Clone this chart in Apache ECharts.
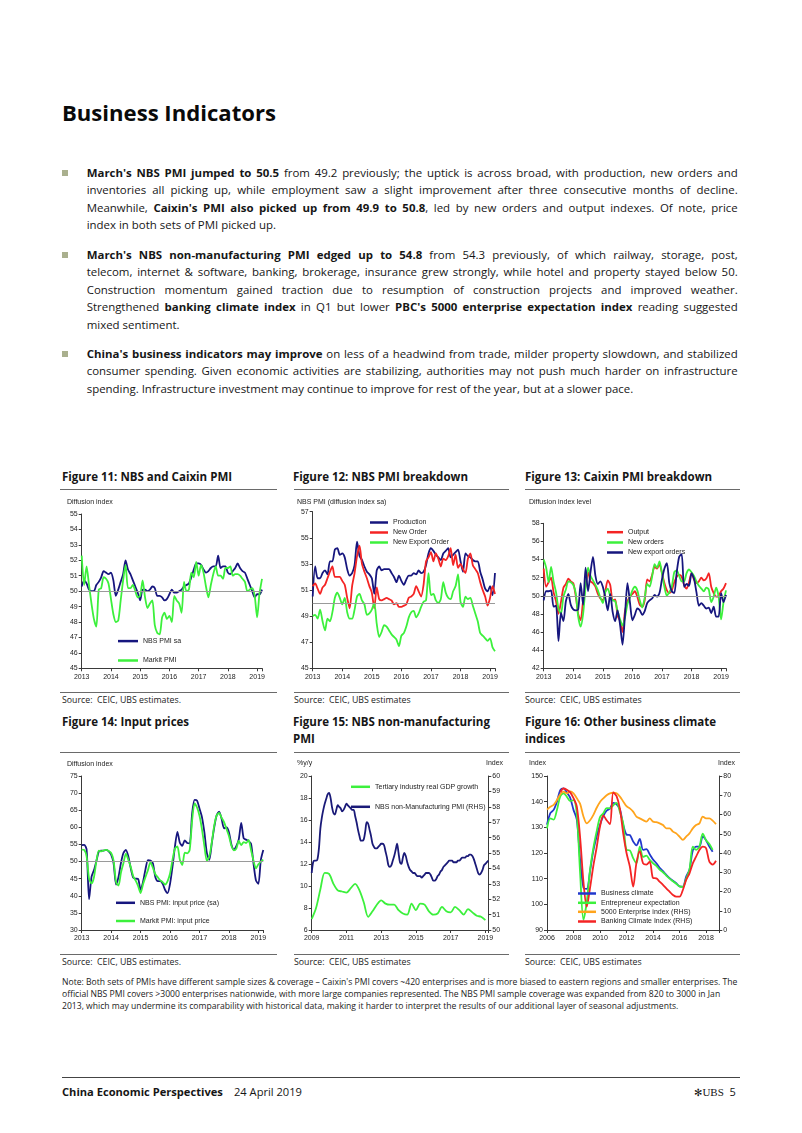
<!DOCTYPE html>
<html>
<head>
<meta charset="utf-8">
<title>Business Indicators</title>
<script src="https://cdn.jsdelivr.net/npm/echarts@6.0.0/dist/echarts.min.js"></script>
<style>
html,body{margin:0;padding:0;background:#fff;}
#page{position:relative;width:802px;height:1133px;overflow:hidden;font-family:'Open Sans','Noto Sans',sans-serif;color:#161616;}
.abs{position:absolute;white-space:nowrap;}
.jl{position:absolute;left:86.7px;width:651px;height:18px;line-height:18px;text-align:justify;text-align-last:justify;font-size:11.5px;white-space:normal;overflow:visible;}
.jl.last{text-align-last:left;}
.bul{position:absolute;left:62px;width:6px;height:6px;background:#aab08e;}
.rule{position:absolute;height:1px;background:#6a6a6a;}
.ft{font-weight:700;font-size:12px;line-height:16px;}
.src{font-size:8.5px;line-height:12px;color:#222;}
.note{font-size:8px;line-height:12px;color:#222;}
.foot{font-size:11.5px;line-height:16px;}
.chart{position:absolute;}
</style>
</head>
<body>
<div id="page">
  <div class="abs" id="title" style="left:62px;top:97px;line-height:30px;font-size:23px;font-weight:700;color:#0a0a0a;">Business Indicators</div>

  <div class="bul" style="top:169.7px"></div>
  <div class="jl" style="top:163.7px"><span><b>March's NBS PMI jumped to 50.5</b> from 49.2 previously; the uptick is across broad, with production, new orders and</span></div>
  <div class="jl" style="top:181.1px"><span>inventories all picking up, while employment saw a slight improvement after three consecutive months of decline.</span></div>
  <div class="jl" style="top:198.5px"><span>Meanwhile, <b>Caixin's PMI also picked up from 49.9 to 50.8</b>, led by new orders and output indexes. Of note, price</span></div>
  <div class="jl last" id="refline" style="top:215.9px"><span>index in both sets of PMI picked up.</span></div>

  <div class="bul" style="top:251.5px"></div>
  <div class="jl" style="top:245.5px"><span><b>March's NBS non-manufacturing PMI edged up to 54.8</b> from 54.3 previously, of which railway, storage, post,</span></div>
  <div class="jl" style="top:263px"><span>telecom, internet &amp; software, banking, brokerage, insurance grew strongly, while hotel and property stayed below 50.</span></div>
  <div class="jl" style="top:280.5px"><span>Construction momentum gained traction due to resumption of construction projects and improved weather.</span></div>
  <div class="jl" style="top:298px"><span>Strengthened <b>banking climate index</b> in Q1 but lower <b>PBC's 5000 enterprise expectation index</b> reading suggested</span></div>
  <div class="jl last" style="top:315.5px"><span>mixed sentiment.</span></div>

  <div class="bul" style="top:350.5px"></div>
  <div class="jl" style="top:344.5px"><span><b>China's business indicators may improve</b> on less of a headwind from trade, milder property slowdown, and stabilized</span></div>
  <div class="jl" style="top:362px"><span>consumer spending. Given economic activities are stabilizing, authorities may not push much harder on infrastructure</span></div>
  <div class="jl last" style="top:379.5px"><span>spending. Infrastructure investment may continue to improve for rest of the year, but at a slower pace.</span></div>

  <!-- Row 1 titles -->
  <div class="abs ft" id="ft11" style="left:62px;top:469px">Figure 11: NBS and Caixin PMI</div>
  <div class="abs ft" style="left:293px;top:469px">Figure 12: NBS PMI breakdown</div>
  <div class="abs ft" style="left:525px;top:469px">Figure 13: Caixin PMI breakdown</div>
  <div class="rule" style="left:60px;top:488.5px;width:217px"></div>
  <div class="rule" style="left:294px;top:488.5px;width:215px"></div>
  <div class="rule" style="left:525px;top:488.5px;width:215px"></div>

  <div class="chart" id="c11" style="left:60px;top:495px;width:217px;height:195px"></div>
  <div class="chart" id="c12" style="left:294px;top:495px;width:215px;height:195px"></div>
  <div class="chart" id="c13" style="left:525px;top:495px;width:215px;height:195px"></div>

  <div class="rule" style="left:60px;top:691.5px;width:217px"></div>
  <div class="rule" style="left:294px;top:691.5px;width:215px"></div>
  <div class="rule" style="left:525px;top:691.5px;width:215px"></div>
  <div class="abs src" id="src1" style="left:62px;top:694px">Source:&nbsp; CEIC, UBS estimates.</div>
  <div class="abs src" style="left:294px;top:694px">Source:&nbsp; CEIC, UBS estimates</div>
  <div class="abs src" style="left:525px;top:694px">Source:&nbsp; CEIC, UBS estimates</div>

  <!-- Row 2 titles -->
  <div class="abs ft" style="left:62px;top:714px">Figure 14: Input prices</div>
  <div class="abs ft" style="left:293px;top:714px">Figure 15: NBS non-manufacturing</div>
  <div class="abs ft" style="left:293px;top:731px">PMI</div>
  <div class="abs ft" style="left:525px;top:714px">Figure 16: Other business climate</div>
  <div class="abs ft" style="left:525px;top:731px">indices</div>
  <div class="rule" style="left:60px;top:751.5px;width:217px"></div>
  <div class="rule" style="left:294px;top:751.5px;width:215px"></div>
  <div class="rule" style="left:525px;top:751.5px;width:215px"></div>

  <div class="chart" id="c14" style="left:60px;top:757px;width:217px;height:193px"></div>
  <div class="chart" id="c15" style="left:294px;top:757px;width:215px;height:193px"></div>
  <div class="chart" id="c16" style="left:525px;top:757px;width:215px;height:193px"></div>

  <div class="rule" style="left:60px;top:953.5px;width:217px"></div>
  <div class="rule" style="left:294px;top:953.5px;width:215px"></div>
  <div class="rule" style="left:525px;top:953.5px;width:215px"></div>
  <div class="abs src" style="left:62px;top:956px">Source:&nbsp; CEIC, UBS estimates.</div>
  <div class="abs src" style="left:294px;top:956px">Source:&nbsp; CEIC, UBS estimates</div>
  <div class="abs src" style="left:525px;top:956px">Source:&nbsp; CEIC, UBS estimates</div>

  <div class="abs note" id="note1" style="left:62px;top:976px">Note: Both sets of PMIs have different sample sizes &amp; coverage – Caixin's PMI covers ~420 enterprises and is more biased to eastern regions and smaller enterprises. The</div>
  <div class="abs note" style="left:62px;top:988px">official NBS PMI covers &gt;3000 enterprises nationwide, with more large companies represented. The NBS PMI sample coverage was expanded from 820 to 3000 in Jan</div>
  <div class="abs note" style="left:62px;top:1000px">2013, which may undermine its comparability with historical data, making it harder to interpret the results of our additional layer of seasonal adjustments.</div>

  <div class="rule" style="left:62px;top:1076.5px;width:678px;background:#444"></div>
  <div class="abs foot" id="foot1" style="left:62px;top:1084px;font-weight:700">China Economic Perspectives</div>
  <div class="abs foot" id="foot2" style="left:234px;top:1084px">24 April 2019</div>
  <div class="abs" style="left:694px;top:1084px;line-height:16px;font-size:11px;"><span style="font-family:'DejaVu Sans';font-size:10px">✻</span><span style="font-family:'Liberation Serif',serif;font-size:11px">UBS</span><span style="font-size:11px">&nbsp; 5</span></div>
</div>

<script>
// ---------------- DATA ----------------
// Figure 11 (monthly, Jan 2013 - Mar 2019)
const fig11Years = [2013, 2014, 2015, 2016, 2017, 2018, 2019];
const fig11YTicks = [45, 46, 47, 48, 49, 50, 51, 52, 53, 54, 55];
const nbsPmiSa = [
50.3,50.7,50.5,50.1,50.0,50.0,50.4,50.6,50.9,51.3,51.2,51.1,
51.2,50.7,49.7,50.1,50.6,51.1,52.0,51.4,51.1,50.7,50.3,49.9,
49.4,50.1,50.1,50.0,50.1,50.3,50.2,49.7,49.7,49.6,49.4,49.5,
49.8,50.1,49.9,49.9,50.0,50.1,50.3,50.4,50.5,50.9,51.4,51.8,
51.8,51.7,51.4,51.2,51.3,51.5,51.6,51.6,52.3,51.5,51.6,51.6,
51.2,51.1,51.3,51.5,51.8,51.5,51.3,51.2,50.8,50.4,50.0,49.6,
49.8,49.8,50.1];
const markitPmi = [
52.3,50.4,51.6,50.4,49.2,48.2,47.7,50.1,50.2,50.9,50.8,50.5,
49.5,48.5,48.0,48.1,49.4,50.7,51.7,50.2,50.2,50.4,50.0,49.6,
49.7,50.7,49.6,48.9,49.2,49.4,47.8,47.3,47.2,48.3,48.6,48.2,
48.4,48.0,49.7,49.4,49.2,48.6,50.6,50.0,50.1,51.2,50.9,51.9,
51.0,51.7,51.2,50.3,49.6,50.4,51.1,51.6,51.0,51.0,50.8,51.5,
51.5,51.6,51.0,51.1,51.1,51.0,50.8,50.6,50.0,50.1,50.2,49.7,
48.3,49.9,50.8];

// Figure 12 (monthly, Jan 2013 - Mar 2019)
const fig12YTicks = [45, 47, 49, 51, 53, 55, 57];
const nbsProduction = [
50.5,52.8,51.9,51.9,52.3,52.5,52.2,53.2,53.2,54.1,54.2,53.7,
53.8,53.5,52.6,52.1,52.3,52.9,54.7,53.6,53.3,52.8,52.4,52.2,
51.9,50.7,52.5,52.8,52.5,52.6,52.6,52.6,52.3,52.0,51.6,52.1,
51.7,51.4,51.8,52.1,52.1,52.3,52.2,52.5,52.3,52.4,52.9,53.8,
54.2,54.0,53.7,53.5,53.3,53.8,54.0,54.2,53.5,53.7,53.9,54.1,
53.2,52.4,53.8,53.6,53.5,53.3,53.2,53.2,52.4,51.8,51.1,50.9,
51.3,50.6,52.3];
const nbsNewOrder = [
51.3,51.5,51.1,50.7,51.2,51.4,51.9,52.4,52.8,52.0,52.0,52.0,
51.7,51.4,50.4,49.6,51.3,52.3,53.6,54.4,53.0,52.4,51.9,51.3,
50.8,49.6,51.2,50.3,50.2,50.3,50.4,50.3,50.2,49.9,50.0,49.7,
49.7,49.8,49.9,50.4,50.5,50.7,51.3,50.9,50.5,51.4,53.2,53.5,
53.9,53.2,53.8,53.4,52.8,53.4,53.3,53.6,54.2,52.9,53.7,52.7,
53.0,52.6,52.3,53.4,53.8,52.9,52.6,52.3,51.6,51.0,50.5,49.8,
50.4,51.3,50.7];
const nbsNewExportOrder = [
49.0,49.1,48.8,49.5,48.6,47.9,48.8,48.6,49.3,50.4,50.8,50.4,
49.9,50.4,49.3,48.8,48.8,49.5,50.5,50.7,50.2,49.9,49.1,49.2,
49.5,50.0,48.4,47.4,47.8,48.3,48.2,47.9,47.6,47.4,47.2,46.7,
47.5,47.7,48.2,48.9,49.3,49.4,48.9,49.2,49.7,50.1,50.2,52.3,
50.6,50.7,50.2,50.0,50.3,51.6,50.8,50.4,50.3,50.9,51.3,52.2,
50.1,49.7,50.5,50.3,50.4,49.8,49.2,48.6,47.7,47.5,47.3,47.1,
47.3,46.6,46.3];

// Figure 13 (monthly, Jan 2013 - Mar 2019)
const fig13YTicks = [42, 44, 46, 48, 50, 52, 54, 56, 58];
const caixinOutput = [
53.0,51.0,51.5,52.0,50.4,49.4,48.0,49.3,50.9,51.3,51.9,51.6,
51.4,50.0,48.0,47.3,49.5,51.1,52.6,51.6,51.4,51.0,50.2,49.7,
49.5,50.5,51.7,51.2,49.5,49.6,47.8,47.2,46.0,48.3,49.4,49.9,
50.2,50.5,49.9,49.0,48.8,49.5,51.8,51.6,52.3,53.2,53.0,53.5,
52.5,51.4,50.6,50.3,50.6,51.5,52.1,52.3,52.1,51.2,50.8,51.5,
52.5,51.8,51.4,51.6,52.0,51.7,51.9,52.5,51.0,50.3,49.9,50.0,
50.5,50.8,51.4];
const caixinNewOrders = [
54.0,53.1,51.5,53.2,51.6,50.4,48.6,48.0,49.9,50.7,51.6,51.5,
51.2,50.3,47.7,46.6,48.0,51.0,53.1,52.2,51.7,51.2,50.6,49.8,
49.2,50.4,50.8,50.0,49.5,49.4,48.3,47.4,46.7,47.6,49.1,49.8,
50.6,51.0,50.6,49.5,48.7,49.8,51.3,51.0,52.1,53.5,53.1,53.8,
52.5,51.0,50.0,50.4,51.0,52.6,52.8,52.2,51.6,51.6,52.5,52.9,
52.6,52.2,51.6,51.1,50.8,50.5,50.9,50.7,49.3,49.9,50.9,49.9,
47.4,49.3,50.6];
const caixinNewExportOrders = [
49.5,50.5,50.5,50.6,48.8,48.9,45.0,48.1,47.2,49.4,50.2,49.0,
48.5,48.4,48.5,51.4,49.0,53.1,50.5,52.6,54.3,52.2,51.3,51.6,
51.0,49.8,48.4,50.2,48.2,47.2,48.4,46.8,44.6,47.9,51.4,49.3,
47.3,47.9,48.6,48.4,47.9,48.3,49.2,49.5,49.7,50.1,49.9,50.3,
51.8,53.0,53.6,51.4,50.5,50.3,52.6,54.3,54.6,51.0,51.3,51.1,
52.5,51.9,50.4,48.9,49.2,48.9,48.6,48.7,48.1,48.8,47.7,47.7,
50.3,49.3,50.1];

// Figure 14 (monthly, Jan 2013 - Mar 2019)
const fig14YTicks = [30, 35, 40, 45, 50, 55, 60, 65, 70, 75];
const nbsInputPrice = [
54.8,54.9,53.5,39.0,45.5,47.5,50.2,53.0,53.2,53.2,53.4,53.0,
52.0,49.5,43.3,45.5,49.6,52.5,53.4,51.5,48.0,45.3,45.0,44.9,
41.7,44.1,47.8,50.4,50.3,49.5,45.5,44.3,44.3,43.5,41.7,40.8,
43.5,48.5,54.4,58.7,55.5,54.6,56.2,55.4,55.3,64.0,68.0,67.8,
65.5,63.0,58.5,52.5,50.5,55.3,60.0,63.5,64.6,62.5,59.7,60.0,
58.6,55.0,53.5,54.5,56.5,61.3,56.8,56.4,56.0,55.2,49.5,44.5,
43.5,50.5,53.4];
const markitInputPrice = [
53.5,53.4,51.5,45.0,43.6,45.4,50.2,53.2,53.0,53.3,53.4,53.1,
52.5,50.3,44.0,43.0,46.8,49.5,52.3,50.5,48.4,45.7,44.4,42.8,
40.8,43.4,45.5,47.5,49.8,48.2,46.3,45.4,44.5,44.0,43.3,44.3,
46.5,50.5,53.8,54.4,50.5,49.0,52.6,52.4,53.4,62.0,67.0,65.8,
63.4,59.5,54.5,50.2,51.5,55.5,60.5,63.5,64.2,62.8,61.5,59.5,
57.5,54.6,53.3,53.8,56.0,54.8,55.7,55.4,56.3,53.4,50.3,48.0,
49.2,50.0,50.5];

// Figure 15: tertiary GDP (quarterly, 2009Q1-2019Q1) and non-mfg PMI (monthly, Jan 2009 - Mar 2019)
const fig15Years = [2009, 2011, 2013, 2015, 2017, 2019];
const fig15LeftTicks = [6, 8, 10, 12, 14, 16, 18, 20];
const fig15RightTicks = [50, 51, 52, 53, 54, 55, 56, 57, 58, 59, 60];
const tertiaryGdp = [
7.0,8.0,9.7,11.2,11.1,10.2,9.6,9.5,9.4,9.8,10.2,9.6,8.5,7.2,7.7,8.3,8.7,8.4,8.3,8.3,
7.8,7.5,7.4,8.4,7.8,8.4,8.3,7.7,7.4,7.5,8.1,7.7,7.6,8.1,7.8,7.4,7.9,7.6,7.3,7.2,6.9];
const nonMfgPmi = [
53.7,54.4,54.5,54.5,54.6,55.3,56.6,57.3,57.8,58.2,58.5,58.8,
58.9,58.6,58.0,57.6,57.5,57.8,58.1,58.0,57.9,57.7,57.8,58.0,
58.2,58.1,58.0,57.9,57.8,57.8,57.4,57.0,56.5,56.1,55.8,55.8,
55.9,56.4,57.0,56.9,56.5,56.1,55.6,55.4,55.3,55.3,55.4,55.5,
55.6,55.6,55.5,55.1,54.7,54.2,54.1,54.2,54.5,54.8,55.2,55.6,
55.0,54.4,54.3,54.7,55.0,54.8,54.4,54.1,53.9,53.8,53.7,53.7,
53.6,53.5,53.5,53.5,53.4,53.5,53.6,53.7,53.7,53.7,53.6,53.4,
53.2,53.2,53.3,53.5,53.6,53.8,53.9,54.1,54.2,54.3,54.4,54.5,
54.5,54.5,54.4,54.4,54.4,54.5,54.5,54.6,54.7,54.7,54.7,54.8,
54.8,54.9,54.9,54.8,54.6,54.3,54.0,53.7,53.6,53.7,53.9,54.2,
54.3,54.4,54.5];

// Figure 16 (quarterly, 2006Q1 - 2018Q4)
const fig16Years = [2006, 2008, 2010, 2012, 2014, 2016, 2018];
const fig16LeftTicks = [90, 100, 110, 120, 130, 140, 150];
const fig16RightTicks = [0, 10, 20, 30, 40, 50, 60, 70, 80];
const businessClimate = [
131.0,135.5,136.8,140.0,144.5,145.2,143.5,141.5,136.8,133.0,
117.3,106.5,106.0,113.0,121.0,126.5,131.0,134.5,136.5,137.3,
139.5,139.0,137.0,131.0,127.2,127.0,124.5,123.0,125.5,121.2,
121.5,119.5,117.5,116.0,114.2,112.9,111.5,110.2,109.2,108.2,
107.0,106.9,110.8,113.5,121.0,122.5,122.5,126.4,125.0,122.5,
120.5];
const entrepreneurExpectation = [
129.6,133.5,133.0,136.8,142.0,143.2,141.9,140.2,140.6,135.0,
112.0,94.0,101.0,113.5,122.0,128.5,134.0,135.5,137.5,137.4,
138.6,139.5,136.0,131.5,121.2,121.0,118.0,116.0,122.5,118.5,
119.0,117.3,116.0,115.0,113.5,112.5,111.2,110.0,109.0,108.0,
107.0,106.8,110.0,113.5,122.5,121.2,122.5,127.5,125.0,123.5,
121.2];
const enterprise5000 = [
62.5,64.0,65.0,67.5,70.5,71.9,71.0,72.0,71.0,68.4,
65.5,59.0,55.4,57.0,59.8,63.5,66.5,68.4,70.0,71.0,
71.3,71.0,69.3,66.8,64.3,63.2,61.5,58.9,58.0,57.1,
56.3,58.0,56.3,56.0,55.4,54.5,52.8,52.8,51.1,50.2,
48.5,46.8,48.5,50.2,52.8,54.5,55.4,58.9,58.0,58.0,
56.8,55.0];
const bankingClimate = [
null,null,null,null,71.5,73.5,72.8,71.5,68.5,64.1,
48.0,25.0,12.1,22.0,33.5,43.0,53.7,59.5,57.0,55.0,
71.5,69.5,63.0,50.2,40.0,33.0,22.5,35.0,41.0,34.6,
34.0,35.5,27.0,26.8,25.1,23.4,21.6,19.9,18.2,17.3,
17.3,20.8,26.0,29.4,34.6,38.1,41.6,43.3,42.5,35.5,
34.0,36.0];

// ---------------- STYLE ----------------
const FONT = "'Liberation Sans', Arial, sans-serif";
const TXT = '#1c1c1c';
const AXC = '#3a3a3a';
const NAVY = '#16167e';
const GREEN = '#3cf03c';
const RED = '#f42424';
const ORANGE = '#ffa41c';
const BLUE = '#2138cc';

function monthly(startYear, vals) { return vals.map((v, i) => [startYear + i / 12, v]); }
function quarterly(startYear, vals) { return vals.map((v, i) => [startYear + i / 4, v]); }

function axisCommon() {
  return {
    axisLine: { show: true, lineStyle: { color: AXC, width: 1 } },
    axisTick: { show: true, length: 3, lineStyle: { color: AXC, width: 1 } },
    splitLine: { show: false },
    minorTick: { show: false }
  };
}
function xYears(years, step, max) {
  const min = years[0];
  return Object.assign(axisCommon(), {
    type: 'value', min: min, max: max, interval: step,
    axisLabel: {
      color: TXT, fontSize: 7, fontFamily: FONT, margin: 5,
      formatter: function (v) {
        const k = (v - min) / step;
        return Math.abs(k - Math.round(k)) < 1e-6 ? String(Math.round(v)) : '';
      }
    }
  });
}
function yTicks(ticks, extra) {
  const step = ticks[1] - ticks[0];
  return Object.assign(axisCommon(), {
    type: 'value', min: ticks[0], max: ticks[ticks.length - 1], interval: step,
    axisLabel: { color: TXT, fontSize: 7, fontFamily: FONT, margin: 4 }
  }, extra || {});
}
function lineSeries(name, data, color, extra) {
  return Object.assign({
    type: 'line', name: name, data: data, showSymbol: false, symbol: 'none',
    smooth: 0.25, lineStyle: { color: color, width: 1.8 }, itemStyle: { color: color },
    emphasis: { disabled: true }, animation: false
  }, extra || {});
}
const ML50 = {
  silent: true, symbol: ['none', 'none'], label: { show: false },
  lineStyle: { color: '#9a9a9a', width: 1, type: 'solid' },
  emphasis: { disabled: true }, data: [{ yAxis: 50 }], animation: false
};
function legendItem(name, left, top, w) {
  return {
    data: [name], left: left, top: top, orient: 'vertical', icon: 'rect',
    itemWidth: w, itemHeight: 2.5, itemGap: 0, padding: 0, selectedMode: false,
    textStyle: { fontSize: 7, color: TXT, fontFamily: FONT }
  };
}
function label(text, left, top) {
  return { type: 'text', left: left, top: top, silent: true,
    style: { text: text, fontSize: 7, fill: TXT, fontFamily: FONT } };
}
function base(grid) {
  return {
    animation: false, textStyle: { fontFamily: FONT },
    tooltip: { show: false },
    grid: Object.assign({ containLabel: false, outerBoundsMode: 'none' }, grid)
  };
}
function make(id, opt) {
  const c = echarts.init(document.getElementById(id), null, { renderer: 'canvas' });
  c.setOption(opt);
}

const END13 = 2013 + 74 / 12;

// Figure 11
make('c11', Object.assign(base({ left: 21.7, right: 15, top: 19, bottom: 21.7 }), {
  xAxis: xYears(fig11Years, 1, END13),
  yAxis: yTicks(fig11YTicks),
  legend: [legendItem('NBS PMI sa', 58, 142.6, 20), legendItem('Markit PMI', 58, 162, 20)],
  graphic: [label('Diffusion index', 7, 4)],
  series: [
    lineSeries('NBS PMI sa', monthly(2013, nbsPmiSa), NAVY, { markLine: ML50 }),
    lineSeries('Markit PMI', monthly(2013, markitPmi), GREEN)
  ]
}));

// Figure 12
make('c12', Object.assign(base({ left: 18.7, right: 14, top: 16.7, bottom: 21.7 }), {
  xAxis: xYears(fig11Years, 1, END13),
  yAxis: yTicks(fig12YTicks),
  legend: [legendItem('Production', 76, 24, 18), legendItem('New Order', 76, 34, 18), legendItem('New Export Order', 76, 44, 18)],
  graphic: [label('NBS PMI (diffusion index sa)', 3, 4)],
  series: [
    lineSeries('Production', monthly(2013, nbsProduction), NAVY, { markLine: ML50 }),
    lineSeries('New Order', monthly(2013, nbsNewOrder), RED),
    lineSeries('New Export Order', monthly(2013, nbsNewExportOrder), GREEN)
  ]
}));

// Figure 13
make('c13', Object.assign(base({ left: 18.7, right: 14, top: 28.3, bottom: 21.7 }), {
  xAxis: xYears(fig11Years, 1, END13),
  yAxis: yTicks(fig13YTicks),
  legend: [legendItem('Output', 82, 33.7, 16), legendItem('New orders', 82, 44, 16), legendItem('New export orders', 82, 54, 16)],
  graphic: [label('Diffusion index level', 4, 4)],
  series: [
    lineSeries('Output', monthly(2013, caixinOutput), RED, { markLine: ML50 }),
    lineSeries('New orders', monthly(2013, caixinNewOrders), GREEN),
    lineSeries('New export orders', monthly(2013, caixinNewExportOrders), NAVY)
  ]
}));

// Figure 14
make('c14', Object.assign(base({ left: 21.7, right: 13.7, top: 19, bottom: 20 }), {
  xAxis: xYears(fig11Years, 1, END13),
  yAxis: yTicks(fig14YTicks),
  legend: [legendItem('NBS PMI: input price (sa)', 56, 142.3, 19), legendItem('Markit PMI: input price', 56, 160.5, 19)],
  graphic: [label('Diffusion index', 7, 4)],
  series: [
    lineSeries('NBS PMI: input price (sa)', monthly(2013, nbsInputPrice), NAVY, { markLine: ML50 }),
    lineSeries('Markit PMI: input price', monthly(2013, markitInputPrice), GREEN)
  ]
}));

// Figure 15
make('c15', Object.assign(base({ left: 17.7, right: 20.7, top: 19, bottom: 20 }), {
  xAxis: xYears(fig15Years, 2, 2009 + 122 / 12),
  yAxis: [yTicks(fig15LeftTicks), yTicks(fig15RightTicks, { position: 'right' })],
  legend: [legendItem('Tertiary industry real GDP growth', 57, 26.3, 19), legendItem('NBS non-Manufacturing PMI (RHS)', 57, 46.3, 19)],
  graphic: [label('%y/y', 3, 3), label('Index', 192, 3)],
  series: [
    lineSeries('Tertiary industry real GDP growth', quarterly(2009, tertiaryGdp), GREEN, { smooth: 0.3 }),
    lineSeries('NBS non-Manufacturing PMI (RHS)', monthly(2009, nonMfgPmi), '#1a1a78', { yAxisIndex: 1, smooth: 0.3 })
  ]
}));

// Figure 16
make('c16', Object.assign(base({ left: 22, right: 20.7, top: 19, bottom: 20 }), {
  xAxis: xYears(fig16Years, 2, 2019),
  yAxis: [yTicks(fig16LeftTicks), yTicks(fig16RightTicks, { position: 'right' })],
  legend: [
    legendItem('Business climate', 53, 133, 18),
    legendItem('Entrepreneur expectation', 53, 142.3, 18),
    legendItem('5000 Enterprise index (RHS)', 53, 151.3, 18),
    legendItem('Banking Climate Index (RHS)', 53, 161, 18)
  ],
  graphic: [label('Index', 4, 3), label('Index', 193, 3)],
  series: [
    lineSeries('Business climate', quarterly(2006, businessClimate), BLUE, { smooth: 0.3 }),
    lineSeries('Entrepreneur expectation', quarterly(2006, entrepreneurExpectation), GREEN, { smooth: 0.3 }),
    lineSeries('5000 Enterprise index (RHS)', quarterly(2006, enterprise5000), ORANGE, { yAxisIndex: 1, smooth: 0.3 }),
    lineSeries('Banking Climate Index (RHS)', quarterly(2006, bankingClimate), RED, { yAxisIndex: 1, smooth: 0.3 })
  ]
}));

// ---------------- TEXT FITTING (layout only) ----------------
function fitClass(sel, refEl, target) {
  const w = refEl.getBoundingClientRect().width;
  const fs = parseFloat(getComputedStyle(refEl).fontSize);
  const nf = fs * target / w;
  document.querySelectorAll(sel).forEach(e => { e.style.fontSize = nf + 'px'; });
}
function fitAll() {
  const t = document.getElementById('title');
  fitClass('#title', t, 214);
  fitClass('.ft', document.getElementById('ft11'), 170);
  fitClass('.src', document.getElementById('src1'), 119);
  fitClass('.note', document.getElementById('note1'), 676);
  fitClass('.foot', document.getElementById('foot1'), 161);
  // body text
  const ref = document.querySelector('#refline span');
  fitClass('.jl', ref, 189.3);
  document.querySelectorAll('.jl').forEach(div => {
    const sp = div.firstElementChild;
    sp.style.letterSpacing = '0px';
    const prev = div.style.textAlignLast;
    div.style.textAlignLast = 'left';
    sp.style.whiteSpace = 'nowrap';
    const w = sp.getBoundingClientRect().width;
    if (w > 649) {
      const n = sp.textContent.length;
      sp.style.letterSpacing = ((649 - w) / n) + 'px';
    }
    sp.style.whiteSpace = '';
    div.style.textAlignLast = prev;
  });
}
fitAll();
if (document.fonts && document.fonts.ready) document.fonts.ready.then(fitAll);
</script>
</body>
</html>
